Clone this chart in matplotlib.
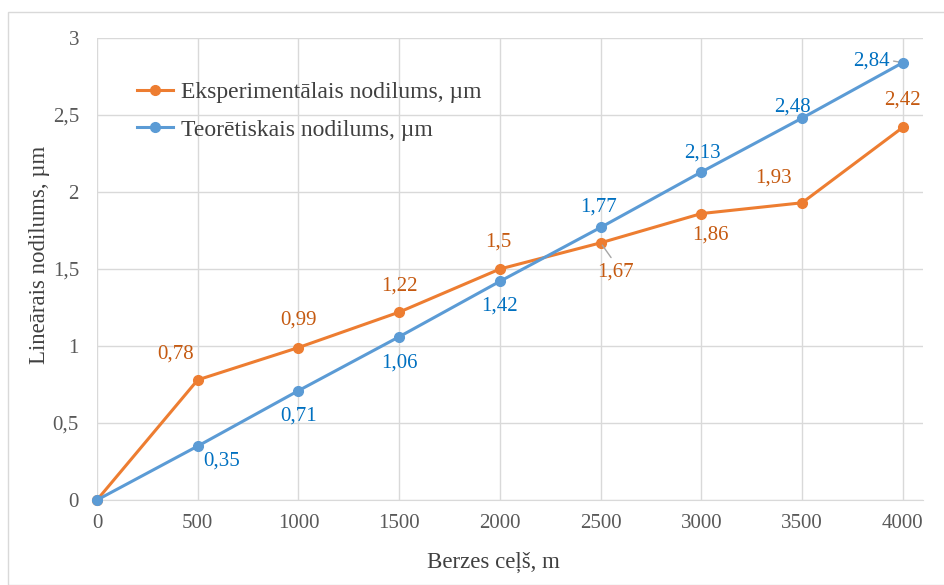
import matplotlib
matplotlib.use("Agg")
import matplotlib.pyplot as plt
from matplotlib.patches import Rectangle

plt.rcParams["font.family"] = ["Liberation Serif", "DejaVu Serif"]

# dati
distance = [0, 500, 1000, 1500, 2000, 2500, 3000, 3500, 4000]
experimental = [0, 0.78, 0.99, 1.22, 1.5, 1.67, 1.86, 1.93, 2.42]
theoretical = [0, 0.35, 0.71, 1.06, 1.42, 1.77, 2.13, 2.48, 2.84]
exp_labels = ["", "0,78", "0,99", "1,22", "1,5", "1,67", "1,86", "1,93", "2,42"]
teo_labels = ["", "0,35", "0,71", "1,06", "1,42", "1,77", "2,13", "2,48", "2,84"]
y_ticks = [0, 0.5, 1, 1.5, 2, 2.5, 3]
y_tick_labels = ["0", "0,5", "1", "1,5", "2", "2,5", "3"]

# label offsets in pixels (dx, dy)
exp_offsets = [None, (-22, 26), (0, 27), (0, 26), (-2, 27), (15, -29), (9, -21), (-29, 25), (0, 27)]
teo_offsets = [None, (24, -15), (0, -25), (0, -26), (0, -25), (-2, 20), (1, 19), (-10, 11), (-31, 2)]

ORANGE = "#ED7D31"
BLUE = "#5B9BD5"
ORANGE_TXT = "#C55A11"
BLUE_TXT = "#0070C0"

fig = plt.figure(figsize=(9.45, 5.85), dpi=100)
W, H = 945, 585
ax = fig.add_axes([97 / W, 1 - 500 / H, (923 - 97) / W, (500 - 38) / H])

# ramis ap diagrammu
fig.patches.append(Rectangle((8 / W, 0), 1, 1 - 12 / H, transform=fig.transFigure,
                             fill=False, edgecolor="#D9D9D9", linewidth=1))

ax.plot(distance, experimental, color=ORANGE, linewidth=2.2, marker="o", markersize=7,
        label="Eksperimentālais nodilums, µm", zorder=3, clip_on=False)
ax.plot(distance, theoretical, color=BLUE, linewidth=2.2, marker="o", markersize=7,
        label="Teorētiskais nodilums, µm", zorder=4, clip_on=False)

for x, y, t, off in zip(distance, experimental, exp_labels, exp_offsets):
    if t:
        ax.annotate(t, (x, y), xytext=off, textcoords="offset pixels", ha="center", va="center",
                    fontsize=15, color=ORANGE_TXT)
for x, y, t, off in zip(distance, theoretical, teo_labels, teo_offsets):
    if t:
        ax.annotate(t, (x, y), xytext=off, textcoords="offset pixels", ha="center", va="center",
                    fontsize=15, color=BLUE_TXT)

# leader lines
ax.annotate("", (2500, 1.67), xytext=(12, -17), textcoords="offset pixels",
            arrowprops=dict(arrowstyle="-", color="#A6A6A6", lw=1))
ax.annotate("", (4000, 2.84), xytext=(-12, 2), textcoords="offset pixels",
            arrowprops=dict(arrowstyle="-", color="#A6A6A6", lw=1))

ax.set_xlim(0, 4100)
ax.set_ylim(0, 3)
ax.set_xticks(distance)
ax.set_yticks(y_ticks)
ax.set_yticklabels(y_tick_labels)
ax.grid(True, color="#D9D9D9", linewidth=1)
ax.set_axisbelow(True)
for s in ["top", "right", "left"]:
    ax.spines[s].set_visible(False)
ax.spines["bottom"].set_color("#D9D9D9")
ax.tick_params(length=0, labelsize=15, labelcolor="#595959")
ax.tick_params(axis="y", pad=13)
ax.tick_params(axis="x", pad=10)

fig.text(493 / W, 1 - 562 / H, "Berzes ceļš, m", fontsize=16.5, color="#404040",
         ha="center", va="center")
fig.text(40 / W, 1 - 255 / H, "Lineārais nodilums, µm", fontsize=16.5, color="#404040",
         ha="center", va="center", rotation=90)

leg = ax.legend(loc="upper left", bbox_to_anchor=(0.023, 0.951), frameon=False, fontsize=17,
                labelspacing=0.66, handlelength=1.5, handletextpad=0.35, labelcolor="#404040")

fig.savefig("out.png", dpi=100)
